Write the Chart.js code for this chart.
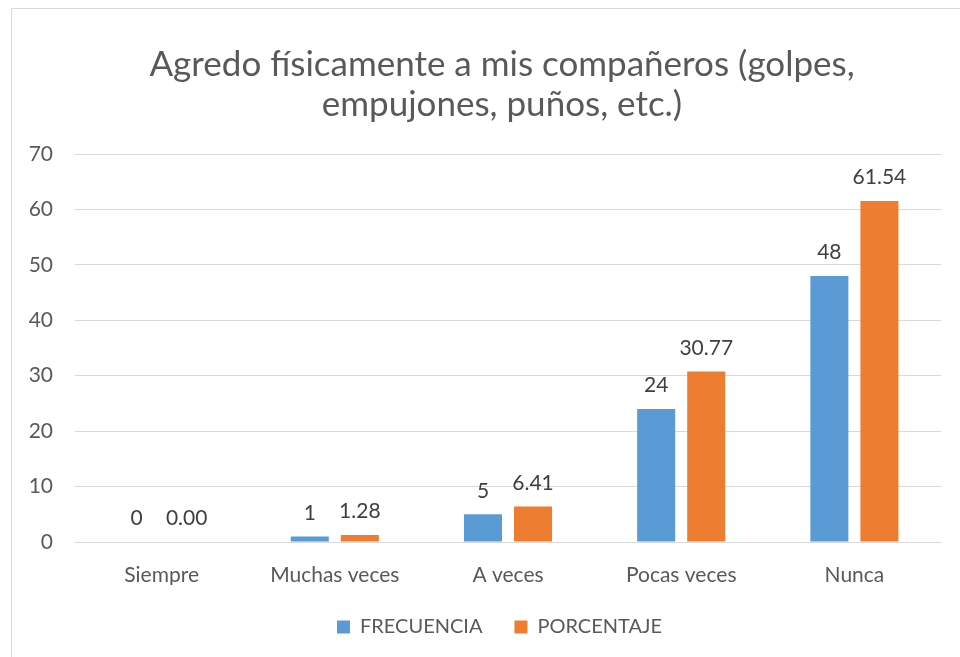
<!DOCTYPE html>
<html>
<head>
<meta charset="utf-8">
<script src="https://cdn.jsdelivr.net/npm/chart.js@4/dist/chart.umd.min.js"></script>
<style>
  html, body { margin: 0; padding: 0; background: #fff; }
  #wrap { position: relative; width: 960px; height: 657px; }
  #frame { position: absolute; left: 11px; top: 8px; width: 960px; height: 700px; border-left: 1px solid #d9d9d9; border-top: 1px solid #d9d9d9; pointer-events: none; }
  canvas { position: absolute; left: 0; top: 0; }
</style>
</head>
<body>
<div id="wrap">
  <canvas id="c" width="960" height="657"></canvas>
  <div id="frame"></div>
</div>
<script>
const categories = ["Siempre", "Muchas veces", "A veces", "Pocas veces", "Nunca"];
const frecuencia = [0, 1, 5, 24, 48];
const porcentaje = [0.00, 1.28, 6.41, 30.77, 61.54];
const seriesNames = ["FRECUENCIA", "PORCENTAJE"];
const titleLines = ["Agredo físicamente a mis compañeros (golpes,", "empujones, puños, etc.)"];

const FONT = "Lato, 'Open Sans', sans-serif";
const TXT = "#595959";

const titleDraw = {
  id: "titleDraw",
  afterDraw(chart) {
    const ctx = chart.ctx;
    ctx.save();
    ctx.font = "35px " + FONT;
    ctx.fillStyle = TXT;
    ctx.textAlign = "center";
    ctx.textBaseline = "middle";
    titleLines.forEach((t, i) => ctx.fillText(t, 502, 65 + i * 40));
    ctx.restore();
  }
};

const legendShift = {
  id: "legendShift",
  afterLayout(chart) {
    const lg = chart.legend;
    if (lg) {
      lg.left += 29;
      lg.right += 29;
      if (lg.adjustHitBoxes) lg.adjustHitBoxes();
    }
  }
};

const valueLabels = {
  id: "valueLabels",
  afterDatasetsDraw(chart) {
    const ctx = chart.ctx;
    ctx.save();
    ctx.font = "21px " + FONT;
    ctx.fillStyle = "#404040";
    ctx.textAlign = "center";
    ctx.textBaseline = "bottom";
    chart.data.datasets.forEach((ds, di) => {
      const meta = chart.getDatasetMeta(di);
      meta.data.forEach((bar, i) => {
        const v = ds.data[i];
        const txt = di === 0 ? String(v) : v.toFixed(2);
        ctx.fillText(txt, bar.x, bar.y - 13);
      });
    });
    ctx.restore();
  }
};

new Chart(document.getElementById("c"), {
  type: "bar",
  data: {
    labels: categories,
    datasets: [
      { label: seriesNames[0], data: frecuencia, backgroundColor: "#5b9bd5", barPercentage: 0.76, categoryPercentage: 0.578 },
      { label: seriesNames[1], data: porcentaje, backgroundColor: "#ed7d31", barPercentage: 0.76, categoryPercentage: 0.578 }
    ]
  },
  options: {
    responsive: false,
    animation: false,
    layout: { padding: { left: 0, right: 19, top: 154, bottom: 10 } },
    plugins: {
      title: { display: false },
      legend: {
        position: "bottom",
        labels: {
          color: TXT,
          font: { family: FONT, size: 20 },
          boxWidth: 13,
          boxHeight: 13,
          padding: 32
        }
      },
      tooltip: { enabled: false }
    },
    scales: {
      x: {
        grid: { display: false },
        border: { color: "#d9d9d9" },
        ticks: { color: TXT, font: { family: FONT, size: 21 }, padding: 13 },
        afterFit(s) { s.height = 43; }
      },
      y: {
        min: 0, max: 70,
        ticks: { stepSize: 10, color: TXT, font: { family: FONT, size: 21 }, padding: 22 },
        grid: { color: "#d9d9d9", drawTicks: false },
        border: { display: false },
        afterFit(s) { s.width = 75; }
      }
    }
  },
  plugins: [valueLabels, titleDraw, legendShift]
});
</script>
</body>
</html>
